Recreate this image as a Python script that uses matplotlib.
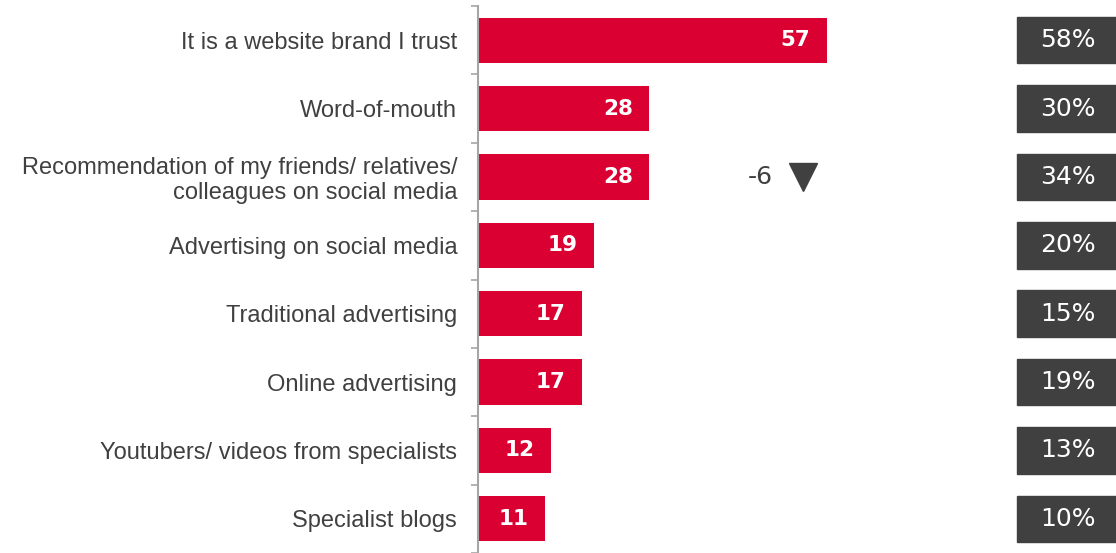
import matplotlib
matplotlib.use("Agg")
import matplotlib.pyplot as plt
from matplotlib.patches import Rectangle
from matplotlib.transforms import blended_transform_factory

categories = [
    "It is a website brand I trust",
    "Word-of-mouth",
    "Recommendation of my friends/ relatives/\ncolleagues on social media",
    "Advertising on social media",
    "Traditional advertising",
    "Online advertising",
    "Youtubers/ videos from specialists",
    "Specialist blogs",
]
values = [57, 28, 28, 19, 17, 17, 12, 11]
previous = ["58%", "30%", "34%", "20%", "15%", "19%", "13%", "10%"]
change_idx = 2
change_text = "-6"

RED = "#DA0032"
DARK = "#404040"

fig = plt.figure(figsize=(11.16, 5.53), dpi=100)
ax = fig.add_axes([478 / 1116, 0, (1116 - 478) / 1116, 1 - 6 / 553])

ypos = list(range(len(categories)))
ax.barh(ypos, values, height=0.66, color=RED, zorder=2)
ax.set_xlim(0, (1116 - 478) / 6.12)
ax.set_ylim(len(categories) - 0.5, -0.5)

for y, v in zip(ypos, values):
    ax.text(v - 2.7, y, str(v), ha="right", va="center", color="white",
            fontsize=15.5, fontweight="bold", family="DejaVu Sans")

# category labels on minor ticks, boundary marks on major ticks
ax.set_yticks([y + 0.5 for y in range(-1, len(categories))])
ax.set_yticklabels([])
ax.set_yticks(ypos, minor=True)
ax.set_yticklabels(categories, minor=True, fontsize=17, color="#404040",
                   family="Liberation Sans", linespacing=1.15)
ax.tick_params(axis="y", which="major", length=5, width=1.2, color="#a6a6a6")
ax.tick_params(axis="y", which="minor", length=0, pad=15)
ax.set_xticks([])
for side in ["top", "right", "bottom"]:
    ax.spines[side].set_visible(False)
ax.spines["left"].set_color("#a6a6a6")
ax.spines["left"].set_linewidth(1.5)

# previous-year boxes at the right edge
trans = blended_transform_factory(fig.transFigure, ax.transData)
for y, lab in zip(ypos, previous):
    ax.add_patch(Rectangle((1017 / 1116, y - 0.34), 0.2, 0.68, transform=trans,
                           color=DARK, clip_on=False, zorder=3))
    ax.text(1068 / 1116, y, lab, transform=trans, ha="center", va="center",
            color="white", fontsize=18, family="DejaVu Sans", zorder=4)

ax.text(773 / 1116, change_idx, change_text, transform=trans, ha="right",
        va="center", color=DARK, fontsize=18, family="DejaVu Sans")
ax.plot([803 / 1116], [change_idx], transform=trans, marker="v", markersize=20,
        color=DARK, clip_on=False)

fig.savefig("out.png", dpi=100)
